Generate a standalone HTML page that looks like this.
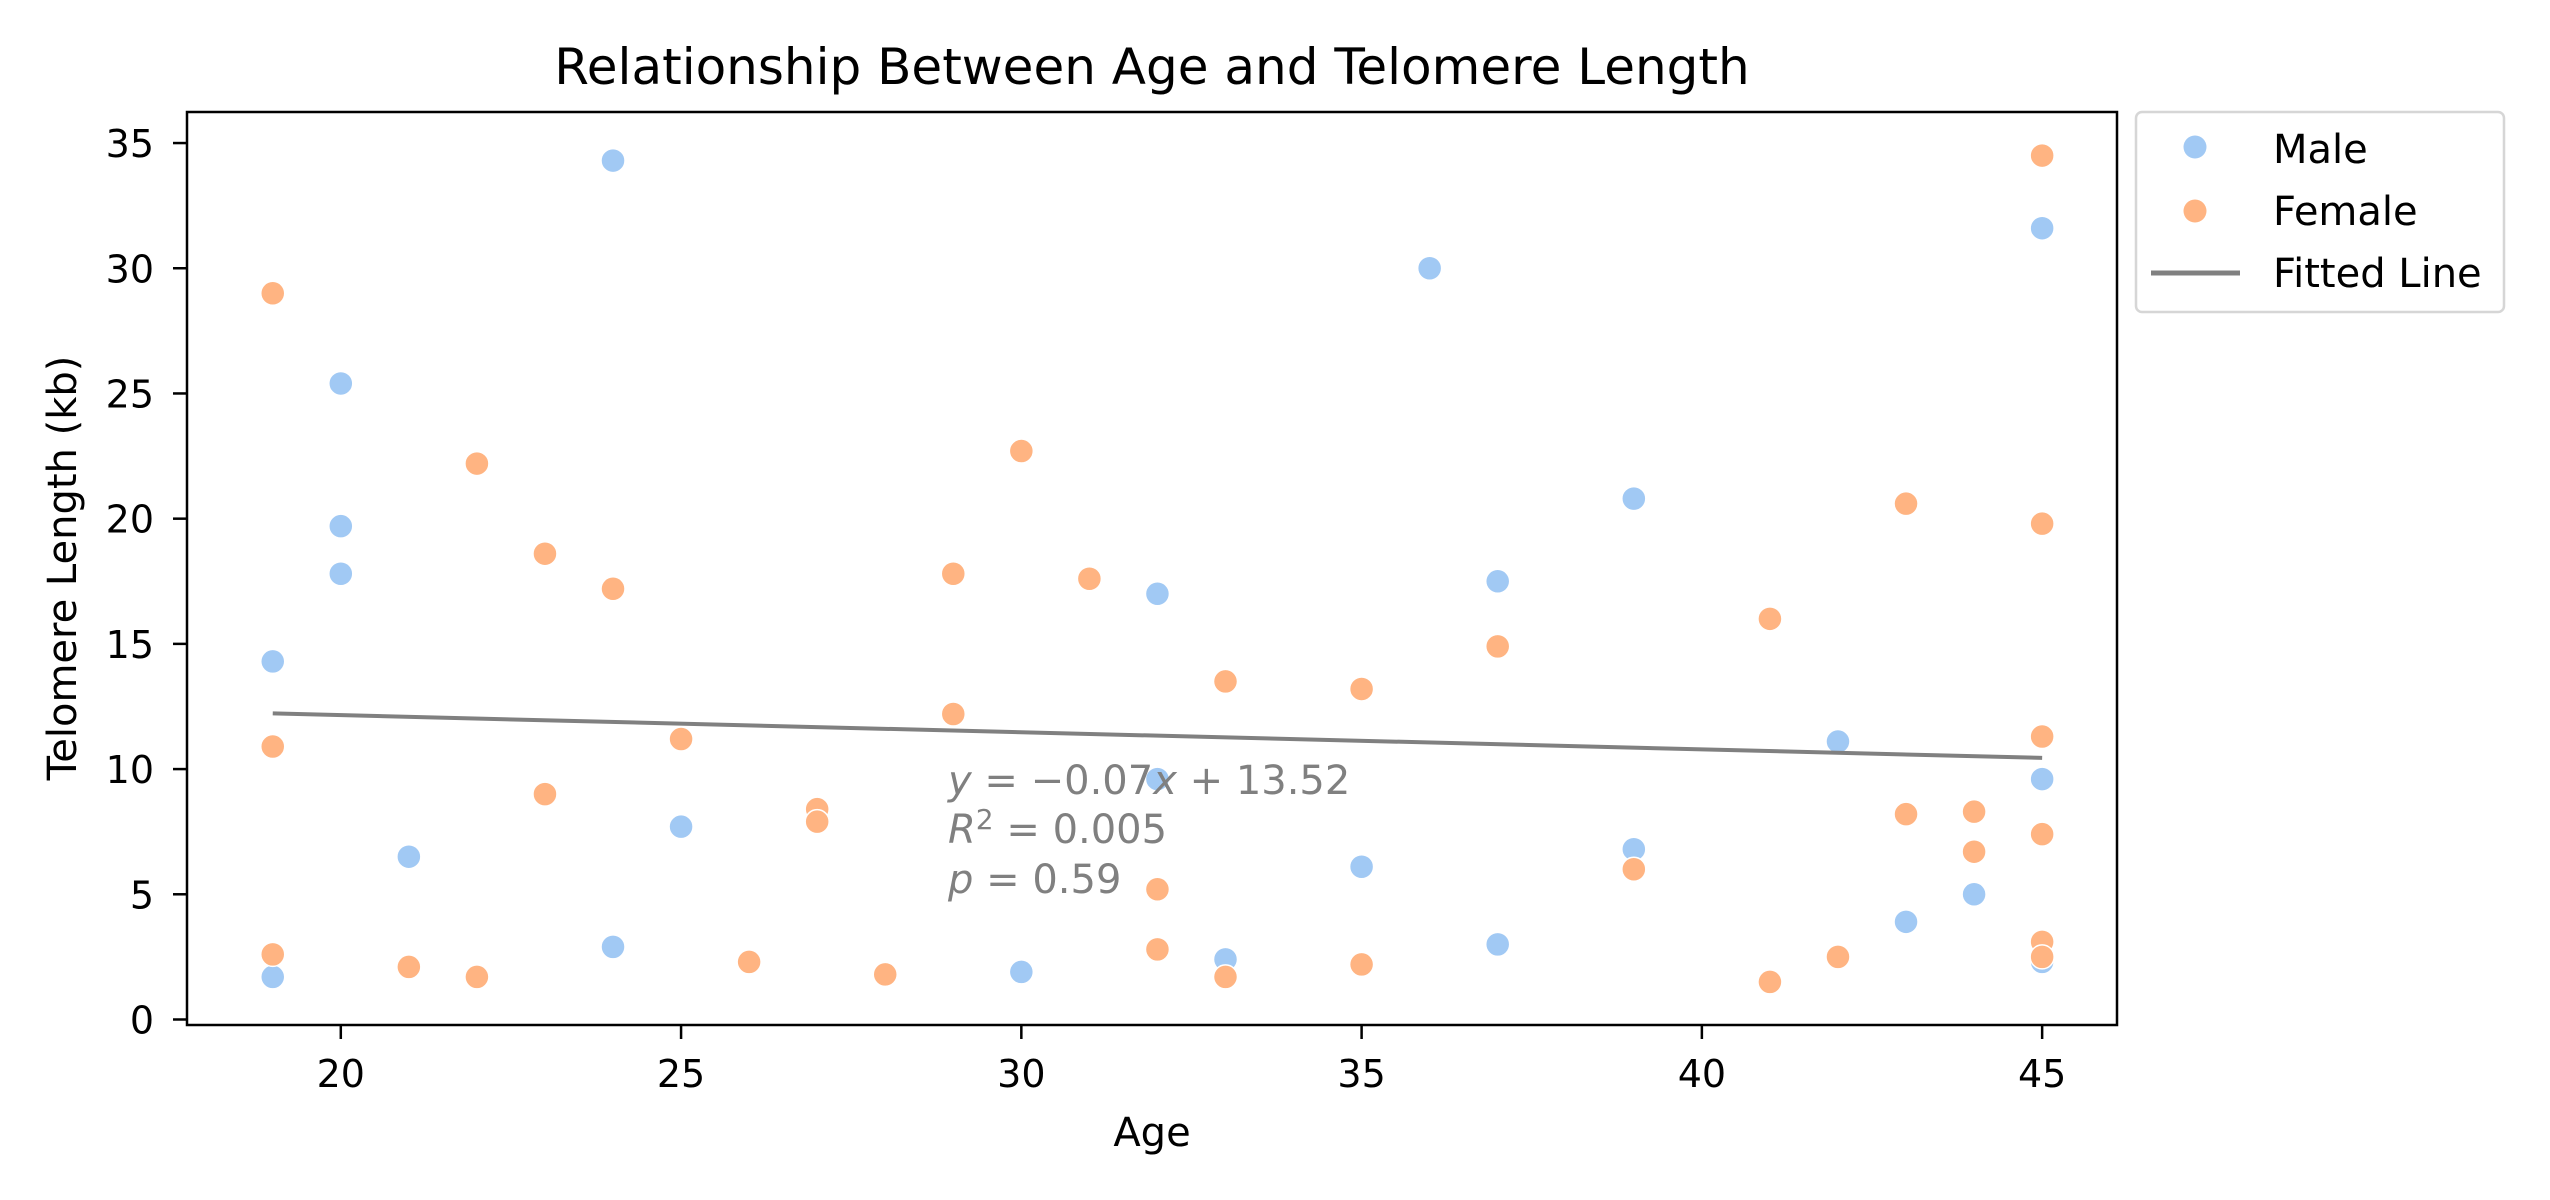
<!DOCTYPE html>
<html><head><meta charset="utf-8"><style>
html,body{margin:0;padding:0;background:#fff}
svg{display:block;font-family:"DejaVu Sans","Liberation Sans",sans-serif}
</style></head><body>
<svg id="chart" width="2550" height="1200" viewBox="0 0 2550 1200">
<rect width="2550" height="1200" fill="#fff"/>
<text x="1152" y="84" text-anchor="middle" font-size="50">Relationship Between Age and Telomere Length</text>
<g id="marks"></g>
<rect x="187" y="112" width="1930" height="913" fill="none" stroke="#000" stroke-width="2.5"/>
<g id="xticks"></g><g id="yticks"></g>
<text x="1152" y="1146" text-anchor="middle" font-size="40">Age</text>
<text transform="translate(76,568) rotate(-90)" text-anchor="middle" font-size="40">Telomere Length (kb)</text>
<g font-size="40" fill="#808080">
<text x="948" y="794"><tspan font-style="italic">y</tspan> = −0.07<tspan font-style="italic">x</tspan> + 13.52</text>
<text x="948" y="843"><tspan font-style="italic">R</tspan><tspan dy="-14" font-size="28">2</tspan><tspan dy="14"> = 0.005</tspan></text>
<text x="948" y="893"><tspan font-style="italic">p</tspan> = 0.59</text>
</g>
<g>
<rect x="2136" y="112" width="368" height="200" rx="6" fill="#fff" stroke="#d6d6d6" stroke-width="2.5"/>
<circle cx="2195" cy="147" r="11.5" fill="#a1c9f4"/>
<text x="2273" y="163" font-size="40">Male</text>
<circle cx="2195" cy="211" r="11.5" fill="#ffb482"/>
<text x="2273" y="225" font-size="40">Female</text>
<line x1="2151" y1="273" x2="2240" y2="273" stroke="#808080" stroke-width="5"/>
<text x="2273" y="287" font-size="40">Fitted Line</text>
</g>
</svg>
<script>
const maleAge=[19,19,20,20,20,21,24,24,25,30,32,32,33,35,36,37,37,39,39,42,43,44,45,45,45];
const maleLen=[14.3,1.7,25.4,19.7,17.8,6.5,34.3,2.9,7.7,1.9,17.0,9.6,2.4,6.1,30.0,17.5,3.0,20.8,6.8,11.1,3.9,5.0,31.6,9.6,2.3];
const femaleAge=[19,19,19,21,22,22,23,23,24,25,26,27,27,28,29,29,30,31,32,32,33,33,35,35,37,39,41,41,42,43,43,44,44,45,45,45,45,45,45];
const femaleLen=[29.0,10.9,2.6,2.1,22.2,1.7,18.6,9.0,17.2,11.2,2.3,8.4,7.9,1.8,17.8,12.2,22.7,17.6,5.2,2.8,13.5,1.7,13.2,2.2,14.9,6.0,16.0,1.5,2.5,20.6,8.2,8.3,6.7,34.5,19.8,11.3,7.4,3.1,2.5];
const fitSlope=-0.0683;
const fitIntercept=13.52;
const fitRange=[19,45];
const xTicks=[20,25,30,35,40,45];
const yTicks=[0,5,10,15,20,25,30,35];
const NS='http://www.w3.org/2000/svg';
const X0=187,X1=2117,Y0=1025,Y1=112,XMIN=17.74,XMAX=46.1,YMIN=-0.22,YMAX=36.24;
function xs(v){return X0+(v-XMIN)/(XMAX-XMIN)*(X1-X0);}
function ys(v){return Y0-(v-YMIN)/(YMAX-YMIN)*(Y0-Y1);}
function mk(t,a){const e=document.createElementNS(NS,t);for(const k in a)e.setAttribute(k,a[k]);return e;}
const marks=document.getElementById('marks');
maleAge.forEach((a,i)=>{const c=mk('circle',{cx:xs(a),cy:ys(maleLen[i]),r:12,fill:'#a1c9f4',stroke:'#fff','stroke-width':1.5});


marks.appendChild(c);});
femaleAge.forEach((a,i)=>{const c=mk('circle',{cx:xs(a),cy:ys(femaleLen[i]),r:12,fill:'#ffb482',stroke:'#fff','stroke-width':1.5});


marks.appendChild(c);});
const ln=mk('line',{x1:xs(fitRange[0]),y1:ys(fitSlope*fitRange[0]+fitIntercept),x2:xs(fitRange[1]),y2:ys(fitSlope*fitRange[1]+fitIntercept),stroke:'#808080','stroke-width':4});


marks.appendChild(ln);
const xg=document.getElementById('xticks');
xTicks.forEach(t=>{const x=xs(t);
const l=mk('line',{x1:x,y1:Y0,x2:x,y2:Y0+14,stroke:'#000','stroke-width':2.5});


xg.appendChild(l);
const tx=mk('text',{x:x,y:1087,'text-anchor':'middle','font-size':38});tx.textContent=t;


xg.appendChild(tx);});
const yg=document.getElementById('yticks');
yTicks.forEach(t=>{const y=ys(t);
const l=mk('line',{x1:X0-14,y1:y,x2:X0,y2:y,stroke:'#000','stroke-width':2.5});


yg.appendChild(l);
const tx=mk('text',{x:154,y:y+14,'text-anchor':'end','font-size':38});tx.textContent=t;


yg.appendChild(tx);});
</script>
</body></html>
